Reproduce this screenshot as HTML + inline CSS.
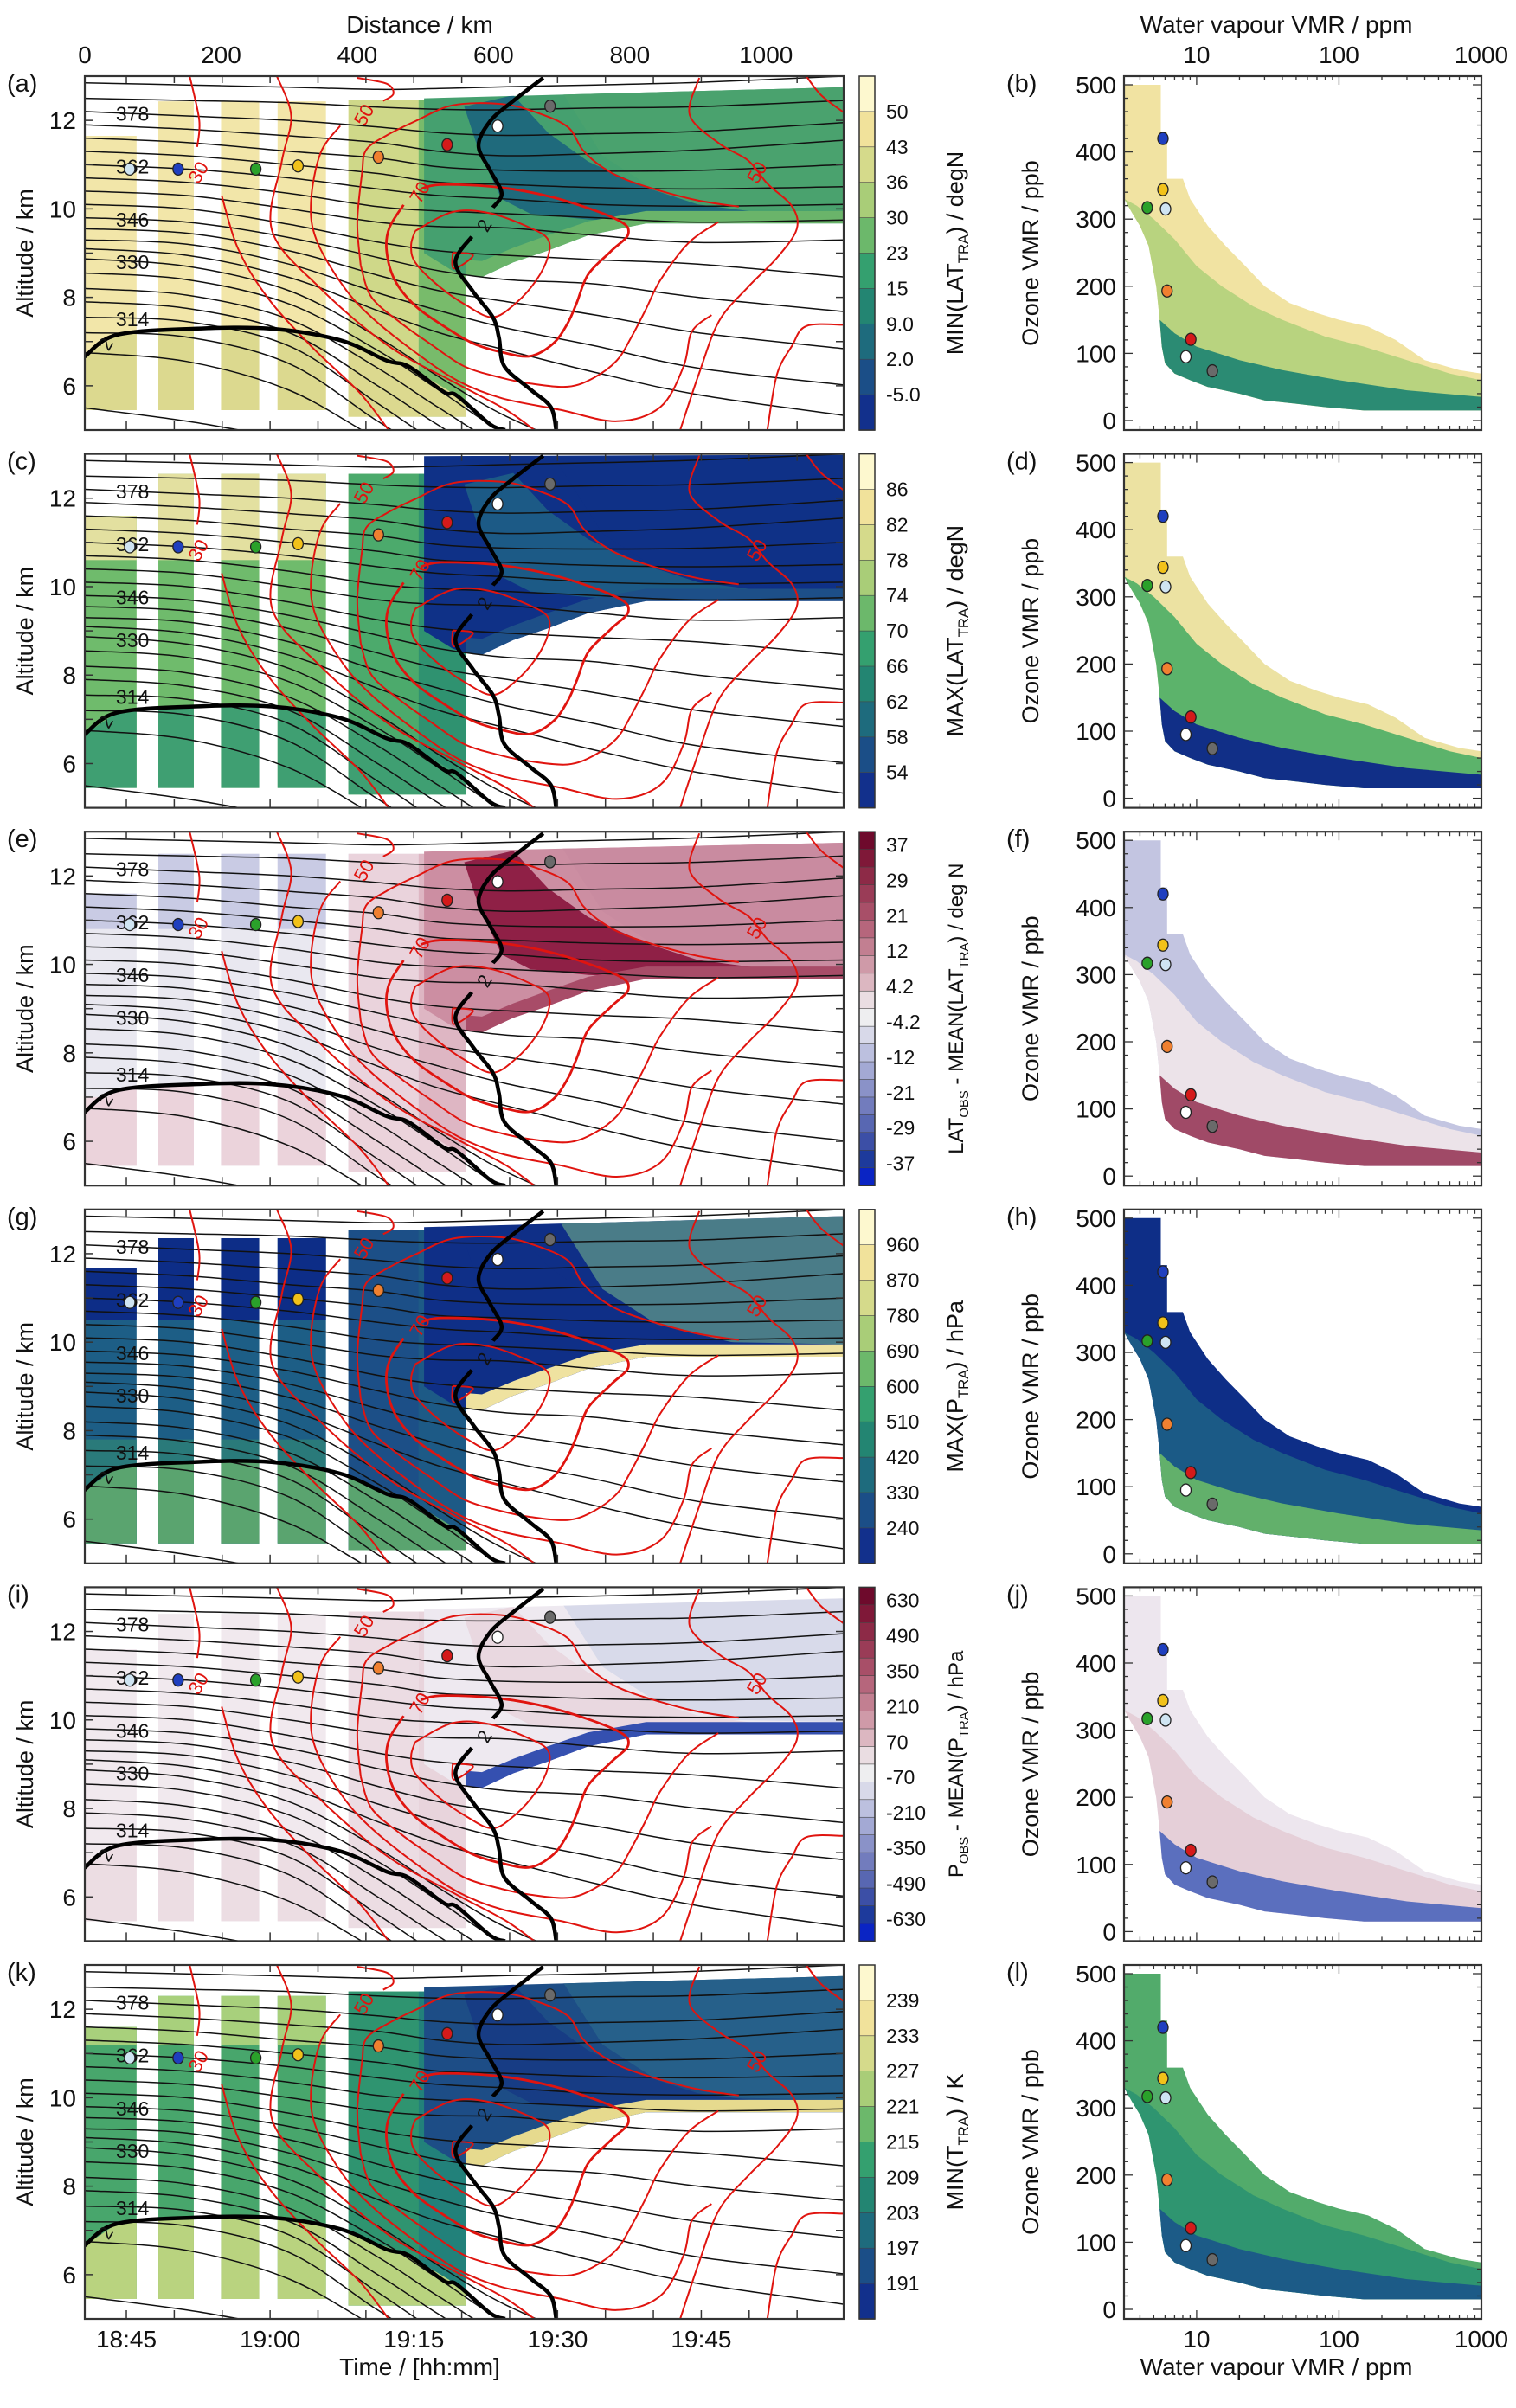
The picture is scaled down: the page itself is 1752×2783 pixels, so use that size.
<!DOCTYPE html>
<html><head><meta charset="utf-8">
<style>
body{margin:0;background:#fff}
svg{display:block}
text{font-family:"Liberation Sans",sans-serif;fill:#111}
</style></head>
<body>
<svg id="fig" width="1752" height="2783" viewBox="0 0 1752 2783" xmlns="http://www.w3.org/2000/svg"></svg>
<script>
// ---------- data ----------
const ISEN_X = [0,150,300,430,520,620,750,900,1114];
const ISEN = [
[13.15,13.1,13.0,13.05,13.1,13.2,13.3,13.4,13.5],
[12.85,12.8,12.75,12.7,12.72,12.76,12.8,12.86,13.0],
[12.5,12.45,12.4,12.3,12.25,12.24,12.28,12.31,12.45],
[12.2,12.1,12.0,11.85,11.72,11.66,11.7,11.75,11.95],
[11.9,11.8,11.65,11.5,11.3,11.2,11.25,11.33,11.55],
[11.6,11.5,11.3,11.15,10.95,10.87,10.85,10.87,11.0],
[11.3,11.2,11.0,10.8,10.6,10.55,10.48,10.45,10.5],
[11.0,10.9,10.7,10.45,10.3,10.22,10.1,10.06,10.1],
[10.7,10.6,10.35,10.05,9.95,9.89,9.8,9.7,9.75],
[10.4,10.3,10.0,9.7,9.6,9.57,9.4,9.24,9.3],
[10.1,10.0,9.65,9.25,9.05,8.95,8.85,8.75,8.46],
[9.8,9.7,9.35,8.9,8.6,8.4,8.3,8.0,7.68],
[9.55,9.45,9.05,8.5,8.15,7.9,7.6,7.2,6.84],
[9.3,9.2,8.75,8.1,7.7,7.3,6.9,6.4,6.02],
[9.1,8.95,8.45,7.7,7.2,6.8,6.3,5.8,5.33],
[8.87,8.7,8.15,7.1,6.2,5.3,4.5,4.0,4.0],
[8.55,8.4,7.85,6.8,5.9,4.9,4.0,4.0,4.0],
[8.2,8.05,7.5,6.4,5.5,4.6,4.0,4.0,4.0],
[7.9,7.75,7.2,6.0,5.1,4.2,4.0,4.0,4.0],
[7.55,7.45,6.9,5.6,4.7,4.0,4.0,4.0,4.0],
[7.2,7.1,6.5,5.2,4.4,4.0,4.0,4.0,4.0],
[6.75,6.55,5.9,4.8,4.2,4.0,4.0,4.0,4.0],
[5.5,5.2,4.8,4.5,4.2,4.0,4.0,4.0,4.0]
];
const ISEN_LABEL_IDX = [3,7,11,15,19];
const ISEN_LABELS = ['378','362','346','330','314'];

const TROPO_UPPER = [[673,12.96],[629,12.44],[595,11.98],[578,11.43],[595,10.87],[612,10.35],[599,10.03]];
const TROPO_MID = [[568,9.37],[544,8.79],[570,8.13],[599,7.55],[608,7.09],[616,6.44],[654,5.92],[684,5.52],[692,5.0]];
const TROPO_LOW = [[-5,6.55],[0,6.66],[47,7.15],[161,7.29],[274,7.29],[375,7.03],[443,6.57],[475,6.44],[527,5.86],[546,5.78],[595,5.13],[617,5.0]];

const RED_LINES = [
 [[154,13.0],[168,12.0],[165,11.4]],
 [[201,10.3],[225,9.1],[268,8.0],[332,6.9],[403,5.85],[446,5.0]],
 [[282,13.0],[303,12.1],[289,11.06],[275,9.5],[346,8.2],[446,6.9],[546,6.05],[617,5.47],[660,5.0]],
 [[400,12.96],[443,12.83],[453,12.6],[438,12.44]],
 [[375,11.88],[346,11.26],[332,10.16],[340,9.3],[379,8.26],[421,7.55],[485,6.76],[548,6.11],[612,5.72],[697,5.46],[781,5.2],[845,5.52],[879,6.44],[891,7.22],[920,7.6]],
 [[405,8.72],[400,9.7],[407,10.81],[413,11.33],[443,11.66],[485,11.98],[540,12.34],[612,12.37],[663,12.18],[709,11.85],[731,11.33],[760,10.94],[803,10.61],[891,10.22],[960,10.05]],
 [[405,8.72],[421,8.0],[464,7.42],[506,6.96],[557,6.44],[612,6.18],[654,6.05],[709,5.98],[747,6.18],[781,6.57],[802,7.09],[824,7.74],[845,8.39],[887,9.24],[930,9.7]],
 [[493,10.45],[525,10.55],[612,10.48],[697,10.22],[781,9.76],[798,9.44],[773,9.05],[739,8.52],[722,7.87],[709,7.42],[688,6.96],[654,6.67],[612,6.76],[570,6.96],[527,7.35],[485,7.81],[455,8.39],[443,9.05],[447,9.57],[468,10.09]],
 [[485,9.5],[540,9.93],[595,9.9],[654,9.57],[680,9.31],[680,8.92],[663,8.39],[633,7.87],[599,7.55],[561,7.81],[519,8.26],[485,8.79],[479,9.18],[485,9.5]],
 [[540,9.01],[570,8.95],[542,8.65],[540,9.01]],
 [[902,12.96],[888,12.12],[931,11.48],[974,11.09],[1002,10.57],[1038,10.06],[1045,9.54],[1016,8.89],[974,8.24],[931,7.46],[902,6.29],[874,5.0]],
 [[1114,7.38],[1059,7.35],[1038,6.9],[1016,6.25],[1002,5.0]],
 [[1059,13.0],[1081,12.57],[1114,12.18]]
];
const RED_LABEL_TEXT = ['30','50','70','50'];
const RED_LABEL_KM = [175,418,500,995];
const RED_LABEL_ALT = [10.75,12.05,10.3,10.75];

const DOT_COLORS = ['#cfe4f2','#1f3fbf','#2aa12a','#f2c21a','#f08030','#d41a1a','#ffffff','#6a6a6a'];
const DOT_KM = [66,137,251,313,431,532,606,683];
const DOT_ALT = [10.9,10.9,10.9,10.97,11.17,11.45,11.87,12.32];
const DOT_WV = [6.05,5.8,4.5,5.8,6.2,9.1,8.4,12.9];
const DOT_O3 = [315,420,317,344,193,121,95,74];

const TIME_LABELS = ['18:45','19:00','19:15','19:30','19:45'];
const TIME_LABEL_KM = [61,272,483,694,905];
const DIST_TICKS = [0,200,400,600,800,1000];
const ALT_TICKS = [6,8,10,12];
const O3_TICKS = [0,100,200,300,400,500];
const WV_TICKS = [10,100,1000];

const CB_A = ['50','43','36','30','23','15','9.0','2.0','-5.0'];
const CB_C = ['86','82','78','74','70','66','62','58','54'];
const CB_E = ['37','29','21','12','4.2','-4.2','-12','-21','-29','-37'];
const CB_G = ['960','870','780','690','600','510','420','330','240'];
const CB_I = ['630','490','350','210','70','-70','-210','-350','-490','-630'];
const CB_K = ['239','233','227','221','215','209','203','197','191'];

const BAND_LOWER = [[1000,15],[700,15],[300,15],[150,15],[80,20],[50,25],[30,30],[20,40],[12,50],[9,60],[7,70],[6,85],[5.7,110],[5.5,150],[5.2,200],[4.6,260],[4,290],[3.5,310],[3.1,330]];
const BAND_OUTER_TOP = [[3.1,500],[5.6,500],[5.6,430],[6.2,430],[6.2,360],[8,360],[9,330],[12,290],[16,260],[22,230],[30,200],[45,175],[70,160],[100,150],[160,140],[250,120],[400,90],[700,75],[1000,70]];
const BAND_MID_TOP = [[3.1,330],[3.8,320],[5,300],[7,270],[10,230],[15,200],[25,170],[40,150],[80,125],[150,110],[300,90],[600,70],[1000,60]];
const BAND_LOW_TOP = [[5.5,150],[7,130],[10,110],[20,90],[40,75],[100,60],[300,45],[1000,35]];

// ---------- geometry ----------
const NS='http://www.w3.org/2000/svg';
const svg=document.getElementById('fig');
const ROW_TOP=88, ROW_PITCH=436.6, PH=409;
const LX0=98, LX1=975, KM_MAX=1114, ALT0=5, ALT1=13;
const RX0=1299, RX1=1712, LOG0=0.49, LOG1=3.0;
function rowTop(r){return ROW_TOP+r*ROW_PITCH;}
function xL(km){return LX0+km/KM_MAX*(LX1-LX0);}
function yL(r,alt){return rowTop(r)+(ALT1-alt)/(ALT1-ALT0)*PH;}
function xR(w){return RX0+(Math.log10(w)-LOG0)/(LOG1-LOG0)*(RX1-RX0);}
function yR(r,p){return rowTop(r)+10+(500-p)*388/500;}
function mk(tag,attrs,parent){const e=document.createElementNS(NS,tag);for(const k in attrs)e.setAttribute(k,attrs[k]);(parent||svg).appendChild(e);return e;}
function smoothPath(pts){
  let d='M'+pts[0][0].toFixed(1)+' '+pts[0][1].toFixed(1);
  for(let i=0;i<pts.length-1;i++){
    const p0=pts[i-1]||pts[i],p1=pts[i],p2=pts[i+1],p3=pts[i+2]||pts[i+1];
    const c1=[p1[0]+(p2[0]-p0[0])/6,p1[1]+(p2[1]-p0[1])/6];
    const c2=[p2[0]-(p3[0]-p1[0])/6,p2[1]-(p3[1]-p1[1])/6];
    d+='C'+c1[0].toFixed(1)+' '+c1[1].toFixed(1)+' '+c2[0].toFixed(1)+' '+c2[1].toFixed(1)+' '+p2[0].toFixed(1)+' '+p2[1].toFixed(1);
  }
  return d;
}
function polyPts(arr,fx,fy){return arr.map(p=>fx(p[0]).toFixed(1)+','+fy(p[1]).toFixed(1)).join(' ');}
function interp(xs,ys,x){for(let i=0;i<xs.length-1;i++){if(x>=xs[i]&&x<=xs[i+1]){const t=(x-xs[i])/(xs[i+1]-xs[i]);return ys[i]+t*(ys[i+1]-ys[i]);}}return ys[ys.length-1];}

const YGB=['#fdf8cf','#f1e29b','#d5da8b','#a9cd78','#6cb86b','#34a06f','#238572','#1e6b7d','#1b4e87','#12308c'];
const DIV=['#6e0a2c','#7f1838','#8d2a47','#9a3c57','#a84f68','#b6667c','#c27f91','#cf9aa8','#dcb7c1','#eadde2','#eeeef0','#d8d9e9','#bcc0df','#a3a9d4','#8a92c8','#727cbd','#5867b2','#3c4fa6','#1d3a9c','#0a24c4'];

const PANELS=[
 {L:'a',R:'b',cb:CB_A,cbc:YGB,title:['MIN(LAT','TRA',') / degN'],s1:11.65,st:12.43,mt:12.47,rbl:12.5,rbr:12.75,
  base:'#f2e6a9',upper:null,upAlt:0,lower:null,loAlt:0,under:'#dcd98f',midL:'#cfd889',midR:'#78bb6b',rb:'#45a06f',rbR:'#4aa26e',core:'#1f6a7c',band:'#6ab46a',
  A:'#f1e3a2',B:'#b8d37f',C:'#2b8b73'},
 {L:'c',R:'d',cb:CB_C,cbc:YGB,title:['MAX(LAT','TRA',') / degN'],s1:11.6,st:12.55,mt:12.55,rbl:12.95,rbr:12.98,
  base:'#6fbb6c',upper:'#e3e0a0',upAlt:10.6,lower:null,loAlt:0,under:'#3f9f72',midL:'#4caa6c',midR:'#2f9270',rb:'#0f3187',rbR:'#0f3187',core:'#1c5a86',band:'#1d4f88',
  A:'#ece2a2',B:'#5cb36b',C:'#112f87'},
 {L:'e',R:'f',cb:CB_E,cbc:DIV,title:['LAT','OBS',' - MEAN(LAT','TRA',') / deg N'],s1:11.6,st:12.5,mt:12.5,rbl:12.55,rbr:12.75,
  base:'#e9e8f0',upper:'#c9cbe4',upAlt:10.8,lower:'#eed9e0',loAlt:7,under:'#ebd3db',midL:'#ead3dc',midR:'#deb6c3',rb:'#cc8ea2',rbR:'#c98ba0',core:'#8f2046',band:'#a84c68',
  A:'#c3c5e1',B:'#ece3e9',C:'#a04a67'},
 {L:'g',R:'h',cb:CB_G,cbc:YGB,title:['MAX(P','TRA',') / hPa'],s1:11.67,st:12.35,mt:12.54,rbl:12.6,rbr:12.85,
  base:'#1d5e86',upper:'#0d2d87',upAlt:10.5,lower:'#2a7a7a',loAlt:7.8,under:'#5aa46f',midL:'#1c4f87',midR:'#1d5a86',rb:'#0f2f87',rbR:'#4a7c88',core:'#0f2f87',band:'#efe2a0',
  A:'#0e2e87',B:'#1b5a86',C:'#62b06b'},
 {L:'i',R:'j',cb:CB_I,cbc:DIV,title:['P','OBS',' - MEAN(P','TRA',') / hPa'],s1:11.6,st:12.4,mt:12.45,rbl:12.5,rbr:12.75,
  base:'#f1e9ee',upper:null,upAlt:0,lower:null,loAlt:0,under:'#ecdde3',midL:'#ecdce3',midR:'#e8d4dc',rb:'#eee9f0',rbR:'#d8daea',core:'#e9d8e0',band:'#3550b0',
  A:'#ede6ee',B:'#e5cfd8',C:'#5b6fbe'},
 {L:'k',R:'l',cb:CB_K,cbc:YGB,title:['MIN(T','TRA',') / K'],s1:11.6,st:12.3,mt:12.4,rbl:12.5,rbr:12.75,
  base:'#48a66c',upper:'#a8d07c',upAlt:11.2,lower:null,loAlt:0,under:'#b9d37f',midL:'#2f9470',midR:'#22817a',rb:'#1d4d86',rbR:'#26608a',core:'#173c84',band:'#e6da8e',
  A:'#52ab6b',B:'#2f9570',C:'#1c5b87'}
];

const STRIPS=[[0,76],[108,160],[200,256],[283,354]];
const RB_BOTTOM=[[1114,9.67],[824,9.67],[739,9.4],[679,9.05],[629,8.79],[583,8.46],[559,8.5]];
const CORE=[[557,12.31],[629,12.57],[680,11.72],[739,11.07],[824,10.48],[900,10.1],[1000,9.9],[1000,9.7],[824,9.7],[739,9.76],[654,9.89],[612,10.22],[578,11.33]];
const BANDL=[[559,8.5],[583,8.46],[629,8.79],[679,9.05],[739,9.4],[824,9.67],[1114,9.67],[1114,9.95],[824,9.95],[739,9.72],[679,9.4],[629,9.12],[583,8.82],[559,8.85]];
const RBRIGHT=[[690,12.9],[1114,12.9],[1114,9.95],[950,10.0],[840,10.4],[760,11.2]];
const UNDER=[[-5,5.3],[-5,6.6],[0,6.66],[47,7.15],[161,7.29],[274,7.29],[375,7.03],[475,6.44],[546,5.78],[580,5.3]];

PANELS.forEach((P,r)=>{
  const T=rowTop(r);
  const g=mk('g',{});
  
  
  const cp=mk('clipPath',{id:'clip'+r},g);
  mk('rect',{x:LX0,y:T,width:LX1-LX0,height:PH},cp);
  const cm=mk('clipPath',{id:'mask'+r},g);
  STRIPS.forEach((s,i)=>{const top=i===0?P.s1:P.st;mk('rect',{x:xL(s[0]),y:yL(r,top),width:xL(s[1])-xL(s[0]),height:yL(r,5.45)-yL(r,top)},cm);});
  mk('rect',{x:xL(387),y:yL(r,P.mt),width:xL(559)-xL(387),height:yL(r,5.3)-yL(r,P.mt)},cm);

  const fld=mk('g',{'clip-path':'url(#clip'+r+')'},g);
  
  
  const lm=mk('g',{'clip-path':'url(#mask'+r+')'},fld);
  mk('rect',{x:xL(0),y:yL(r,13),width:xL(559)-xL(0),height:PH,fill:P.base},lm);
  if(P.upper) mk('rect',{x:xL(0),y:yL(r,13),width:xL(387)-xL(0),height:yL(r,P.upAlt)-yL(r,13),fill:P.upper},lm);
  if(P.lower) mk('rect',{x:xL(0),y:yL(r,P.loAlt),width:xL(387)-xL(0),height:yL(r,5)-yL(r,P.loAlt),fill:P.lower},lm);
  mk('rect',{x:xL(387),y:yL(r,13),width:xL(490)-xL(387),height:PH,fill:P.midL},lm);
  mk('rect',{x:xL(490),y:yL(r,13),width:xL(559)-xL(490),height:PH,fill:P.midR},lm);
  mk('polygon',{points:polyPts(UNDER,xL,a=>yL(r,a)),fill:P.under},lm);
  const rbPts=[[498,P.rbl],[1114,P.rbr]].concat(RB_BOTTOM).concat([[540,8.6],[498,9.0]]);
  const rbEl=mk('polygon',{points:polyPts(rbPts,xL,a=>yL(r,a)),fill:P.rb},fld);
  
  
  const rbc=mk('clipPath',{id:'rbc'+r},g);
  mk('polygon',{points:polyPts(rbPts,xL,a=>yL(r,a))},rbc);
  const rg=mk('g',{'clip-path':'url(#rbc'+r+')'},fld);
  mk('polygon',{points:polyPts(RBRIGHT,xL,a=>yL(r,a)),fill:P.rbR},rg);
  mk('polygon',{points:polyPts(CORE,xL,a=>yL(r,a)),fill:P.core},rg);
  mk('polygon',{points:polyPts(BANDL,xL,a=>yL(r,a)),fill:P.band},rg);

  const iso=mk('g',{fill:'none',stroke:'#111','stroke-width':1.5,'clip-path':'url(#clip'+r+')'},g);
  
  
  ISEN.forEach((line,i)=>{
    const pts=ISEN_X.map((x,j)=>[xL(x),yL(r,line[j])]);
    const p=mk('path',{d:smoothPath(pts)},iso);
    
    
  });
  ISEN_LABEL_IDX.forEach((idx,k)=>{
    const a=interp(ISEN_X,ISEN[idx],70);
    const t=mk('text',{x:xL(70),y:yL(r,a)+8,'font-size':23,'text-anchor':'middle'},g);
    t.textContent=ISEN_LABELS[k];
    
    
  });
  const red=mk('g',{fill:'none',stroke:'#e0140f','stroke-width':2,'clip-path':'url(#clip'+r+')'},g);
  
  
  RED_LINES.forEach((line,i)=>{
    const p=mk('path',{d:smoothPath(line.map(q=>[xL(q[0]),yL(r,q[1])])),'stroke-width':(i===7?2.8:2)},red);
    
    
  });
  RED_LABEL_TEXT.forEach((s,k)=>{
    const x=xL(RED_LABEL_KM[k]),y=yL(r,RED_LABEL_ALT[k]);
    const t=mk('text',{x:x,y:y,'font-size':22,'text-anchor':'middle',fill:'#e0140f',style:'fill:#e0140f',transform:'rotate(-60 '+x+' '+y+')'},g);
    t.textContent=s;
    
    
  });
  const tp=mk('g',{fill:'none',stroke:'#000','stroke-width':4.5,'clip-path':'url(#clip'+r+')'},g);
  
  
  [TROPO_UPPER,TROPO_MID,TROPO_LOW].forEach(line=>{
    const p=mk('path',{d:smoothPath(line.map(q=>[xL(q[0]),yL(r,q[1])]))},tp);
    
    
  });
  [[586,9.63],[30,6.95]].forEach(q=>{
    const t=mk('text',{x:xL(q[0]),y:yL(r,q[1])+8,'font-size':22,'text-anchor':'middle',transform:'rotate(-60 '+xL(q[0])+' '+yL(r,q[1])+')'},g);
    t.textContent='2';
    
    
  });
  DOT_KM.forEach((km,i)=>{
    const c=mk('ellipse',{cx:xL(km),cy:yL(r,DOT_ALT[i]),rx:6,ry:7,fill:DOT_COLORS[i],stroke:'#222','stroke-width':1.3},g);
    
    
  });
  const fr=mk('rect',{x:LX0,y:T,width:LX1-LX0,height:PH,fill:'none',stroke:'#333','stroke-width':2.2},g);
  
  
  for(let m=0;m<=15;m++){
    const x=xL(61+m*70.33); if(x>LX1) break;
    mk('line',{x1:x,y1:T,x2:x,y2:T+8,stroke:'#333','stroke-width':1.5},g);
    mk('line',{x1:x,y1:T+PH,x2:x,y2:T+PH-10,stroke:'#333','stroke-width':1.5},g);
  }
  for(let a=6;a<=12;a++){
    mk('line',{x1:LX0,y1:yL(r,a),x2:LX0+9,y2:yL(r,a),stroke:'#333','stroke-width':1.5},g);
    mk('line',{x1:LX1,y1:yL(r,a),x2:LX1-9,y2:yL(r,a),stroke:'#333','stroke-width':1.5},g);
  }
  ALT_TICKS.forEach(a=>{
    const t=mk('text',{x:88,y:yL(r,a)+10,'font-size':28,'text-anchor':'end'},g);
    t.textContent=a;
    
    
  });
  const yt=mk('text',{x:38,y:T+PH/2,'font-size':27,'text-anchor':'middle',transform:'rotate(-90 38 '+(T+PH/2)+')'},g);
  yt.textContent='Altitude / km';
  
  
  const pl=mk('text',{x:8,y:T+18,'font-size':29},g);
  pl.textContent='('+P.L+')';
  
  

  const cb=mk('g',{},g);
  
  
  const n=P.cbc.length;
  P.cbc.forEach((c,i)=>{mk('rect',{x:993,y:T+i*PH/n,width:18,height:PH/n+0.5,fill:c,stroke:'#444','stroke-width':0.6},cb);});
  mk('rect',{x:993,y:T,width:18,height:PH,fill:'none',stroke:'#333','stroke-width':1.5},cb);
  P.cb.forEach((s,k)=>{
    const y=(n===10)?T+(k+1)*PH/10:T+(0.75+2*k)*PH/20;
    const t=mk('text',{x:1024,y:y+8,'font-size':23},cb);
    t.textContent=s;
    
    
  });
  const fs=P.title.length>3?24:27;
  const cx=1113, cy=T+PH/2;
  const tt=mk('text',{x:cx,y:cy,'font-size':fs,'text-anchor':'middle',transform:'rotate(-90 '+cx+' '+cy+')'},cb);
  P.title.forEach((s,k)=>{
    const ts=mk('tspan',{},tt);
    if(k%2===1){ts.setAttribute('font-size',fs*0.62);ts.setAttribute('dy',6);} else if(k>0){ts.setAttribute('dy',-6);}
    ts.textContent=s;
  });
  
  

  const rg2=mk('g',{},svg);
  
  
  const cr=mk('clipPath',{id:'rclip'+r},rg2);
  mk('rect',{x:RX0,y:T,width:RX1-RX0,height:PH},cr);
  const bg=mk('g',{'clip-path':'url(#rclip'+r+')'},rg2);
  
  
  const fy=p=>yR(r,p);
  mk('polygon',{points:polyPts(BAND_OUTER_TOP.concat(BAND_LOWER),xR,fy),fill:P.A},bg);
  mk('polygon',{points:polyPts(BAND_MID_TOP.concat(BAND_LOWER.slice(0,BAND_LOWER.length-1)),xR,fy),fill:P.B},bg);
  mk('polygon',{points:polyPts(BAND_LOW_TOP.concat(BAND_LOWER.slice(0,14)),xR,fy),fill:P.C},bg);
  DOT_WV.forEach((w,i)=>{
    const c=mk('ellipse',{cx:xR(w),cy:yR(r,DOT_O3[i]),rx:6,ry:7,fill:DOT_COLORS[i],stroke:'#222','stroke-width':1.3},rg2);
    
    
  });
  const rf=mk('rect',{x:RX0,y:T,width:RX1-RX0,height:PH,fill:'none',stroke:'#333','stroke-width':2.2},rg2);
  
  
  for(let p=0;p<=500;p+=20){
    const L=p%100===0?10:5;
    mk('line',{x1:RX0,y1:yR(r,p),x2:RX0+L,y2:yR(r,p),stroke:'#333','stroke-width':1.3},rg2);
    mk('line',{x1:RX1,y1:yR(r,p),x2:RX1-L,y2:yR(r,p),stroke:'#333','stroke-width':1.3},rg2);
  }
  for(let d=0;d<=3;d++)for(let m=1;m<10;m++){
    const w=m*Math.pow(10,d); const x=xR(w); if(x<RX0||x>RX1) continue;
    const L=m===1?10:5;
    mk('line',{x1:x,y1:T,x2:x,y2:T+L,stroke:'#333','stroke-width':1.3},rg2);
    mk('line',{x1:x,y1:T+PH,x2:x,y2:T+PH-L,stroke:'#333','stroke-width':1.3},rg2);
  }
  O3_TICKS.forEach(p=>{
    const t=mk('text',{x:1290,y:yR(r,p)+10,'font-size':28,'text-anchor':'end'},rg2);
    t.textContent=p;
    
    
  });
  const oy=mk('text',{x:1200,y:T+PH/2,'font-size':27,'text-anchor':'middle',transform:'rotate(-90 1200 '+(T+PH/2)+')'},rg2);
  oy.textContent='Ozone VMR / ppb';
  
  
  const pr=mk('text',{x:1163,y:T+18,'font-size':29},rg2);
  pr.textContent='('+P.R+')';
  
  
});

DIST_TICKS.forEach(d=>{
  const t=mk('text',{x:xL(d),y:73,'font-size':28,'text-anchor':'middle'});
  t.textContent=d;
  
  
});
let t1=mk('text',{x:485,y:38,'font-size':28,'text-anchor':'middle'});
t1.textContent='Distance / km';


TIME_LABELS.forEach((s,k)=>{
  const t=mk('text',{x:xL(TIME_LABEL_KM[k]),y:2713,'font-size':28,'text-anchor':'middle'});
  t.textContent=s;
  
  
});
let t2=mk('text',{x:485,y:2745,'font-size':28,'text-anchor':'middle'});
t2.textContent='Time / [hh:mm]';


WV_TICKS.forEach(w=>{
  const a=mk('text',{x:xR(w),y:73,'font-size':28,'text-anchor':'middle'});
  a.textContent=w;
  
  
  const b=mk('text',{x:xR(w),y:2713,'font-size':28,'text-anchor':'middle'});
  b.textContent=w;
  
  
});
let t3=mk('text',{x:1475,y:38,'font-size':28,'text-anchor':'middle'});
t3.textContent='Water vapour VMR / ppm';


let t4=mk('text',{x:1475,y:2745,'font-size':28,'text-anchor':'middle'});
t4.textContent='Water vapour VMR / ppm';


</script>
</body></html>
